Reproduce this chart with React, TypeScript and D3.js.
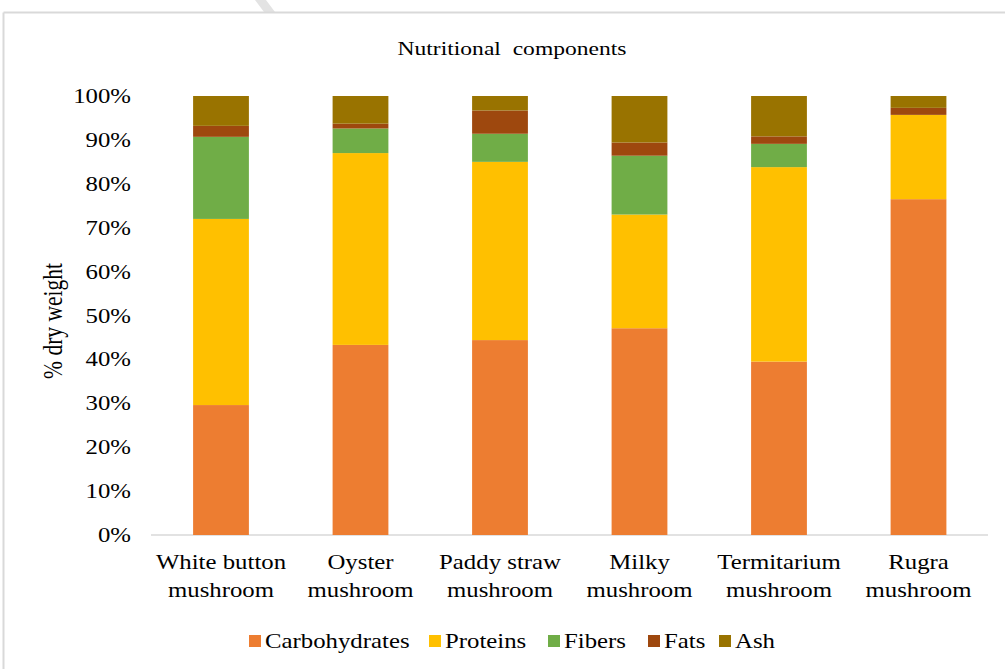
import React from "react";
import * as d3 from "d3";

const categories = [
  ["White button", "mushroom"],
  ["Oyster", "mushroom"],
  ["Paddy straw", "mushroom"],
  ["Milky", "mushroom"],
  ["Termitarium", "mushroom"],
  ["Rugra", "mushroom"],
];
const seriesNames = ["Carbohydrates", "Proteins", "Fibers", "Fats", "Ash"];
const carbohydrates = [29.6, 43.3, 44.4, 47.1, 39.5, 76.5];
const proteins = [42.4, 43.7, 40.6, 25.9, 44.3, 19.2];
const fibers = [18.7, 5.6, 6.4, 13.4, 5.3, 0];
const fats = [2.5, 1.1, 5.3, 3.0, 1.7, 1.6];
const ash = [6.8, 6.3, 3.3, 10.6, 9.2, 2.7];
const colors = ["#ED7D31", "#FFC000", "#70AD47", "#9E480E", "#997300"];
const yTicks = [0, 10, 20, 30, 40, 50, 60, 70, 80, 90, 100];

const FONT = "'Liberation Serif', 'Times New Roman', serif";
const SX = 1.24;

function T({ x, y, anchor = "start", size = 20, children }: any) {
  return (
    <text
      transform={`translate(${x},${y}) scale(${SX},1)`}
      textAnchor={anchor}
      fontFamily={FONT}
      fontSize={size}
      fill="#000"
    >
      {children}
    </text>
  );
}

export default function App() {
  const W = 1005, H = 669;
  const x = d3
    .scaleBand()
    .domain(categories.map((_, i) => String(i)))
    .range([151.25, 988.25])
    .paddingInner(0.6)
    .paddingOuter(0.3);
  const y = d3.scaleLinear().domain([0, 100]).range([535, 96]);
  const series = [carbohydrates, proteins, fibers, fats, ash];
  const rows = categories.map((_, i) => {
    const o: any = { key: String(i) };
    seriesNames.forEach((s, j) => (o[s] = series[j][i]));
    return o;
  });
  const stacked = d3.stack().keys(seriesNames).offset(d3.stackOffsetExpand)(rows);
  const legendX = [249, 429, 548, 648, 719];
  return (
    <svg width={W} height={H} style={{ position: "absolute", left: 0, top: 0 }}>
      <rect x={0} y={0} width={W} height={H} fill="#fff" />
      <path d="M255,0 L266,0 L275,12 L264,12 Z" fill="#e3e3e3" />
      <line x1={3.5} y1={12.5} x2={W} y2={12.5} stroke="#d9d9d9" strokeWidth={2} />
      <line x1={3.5} y1={12.5} x2={3.5} y2={H} stroke="#d9d9d9" strokeWidth={2} />
      <T x={512} y={55} anchor="middle" size={19}>
        Nutritional{"\u00a0\u00a0"}components
      </T>
      {yTicks.map((t) => (
        <T key={t} x={131} y={y(t) + 7} anchor="end">
          {t}%
        </T>
      ))}
      <text
        transform={`translate(62,321) scale(${SX},1) rotate(-90)`}
        textAnchor="middle"
        fontFamily={FONT}
        fontSize={21.5}
        fill="#000"
      >
        % dry weight
      </text>
      <line x1={151} x2={988} y1={535} y2={535} stroke="#d9d9d9" strokeWidth={1.5} />
      {stacked.map((s, j) => (
        <g key={seriesNames[j]} fill={colors[j]}>
          {s.map((d, i) => (
            <rect
              key={i}
              x={x(String(i))}
              width={x.bandwidth()}
              y={y(d[1] * 100)}
              height={Math.max(0, y(d[0] * 100) - y(d[1] * 100))}
            />
          ))}
        </g>
      ))}
      {categories.map((c, i) => {
        const cx = (x(String(i)) as number) + x.bandwidth() / 2;
        return (
          <g key={i}>
            <T x={cx} y={569} anchor="middle">{c[0]}</T>
            <T x={cx} y={597} anchor="middle">{c[1]}</T>
          </g>
        );
      })}
      {seriesNames.map((s, j) => (
        <g key={s}>
          <rect x={legendX[j]} y={635} width={12} height={12} fill={colors[j]} />
          <T x={legendX[j] + 16} y={648}>{s}</T>
        </g>
      ))}
    </svg>
  );
}
